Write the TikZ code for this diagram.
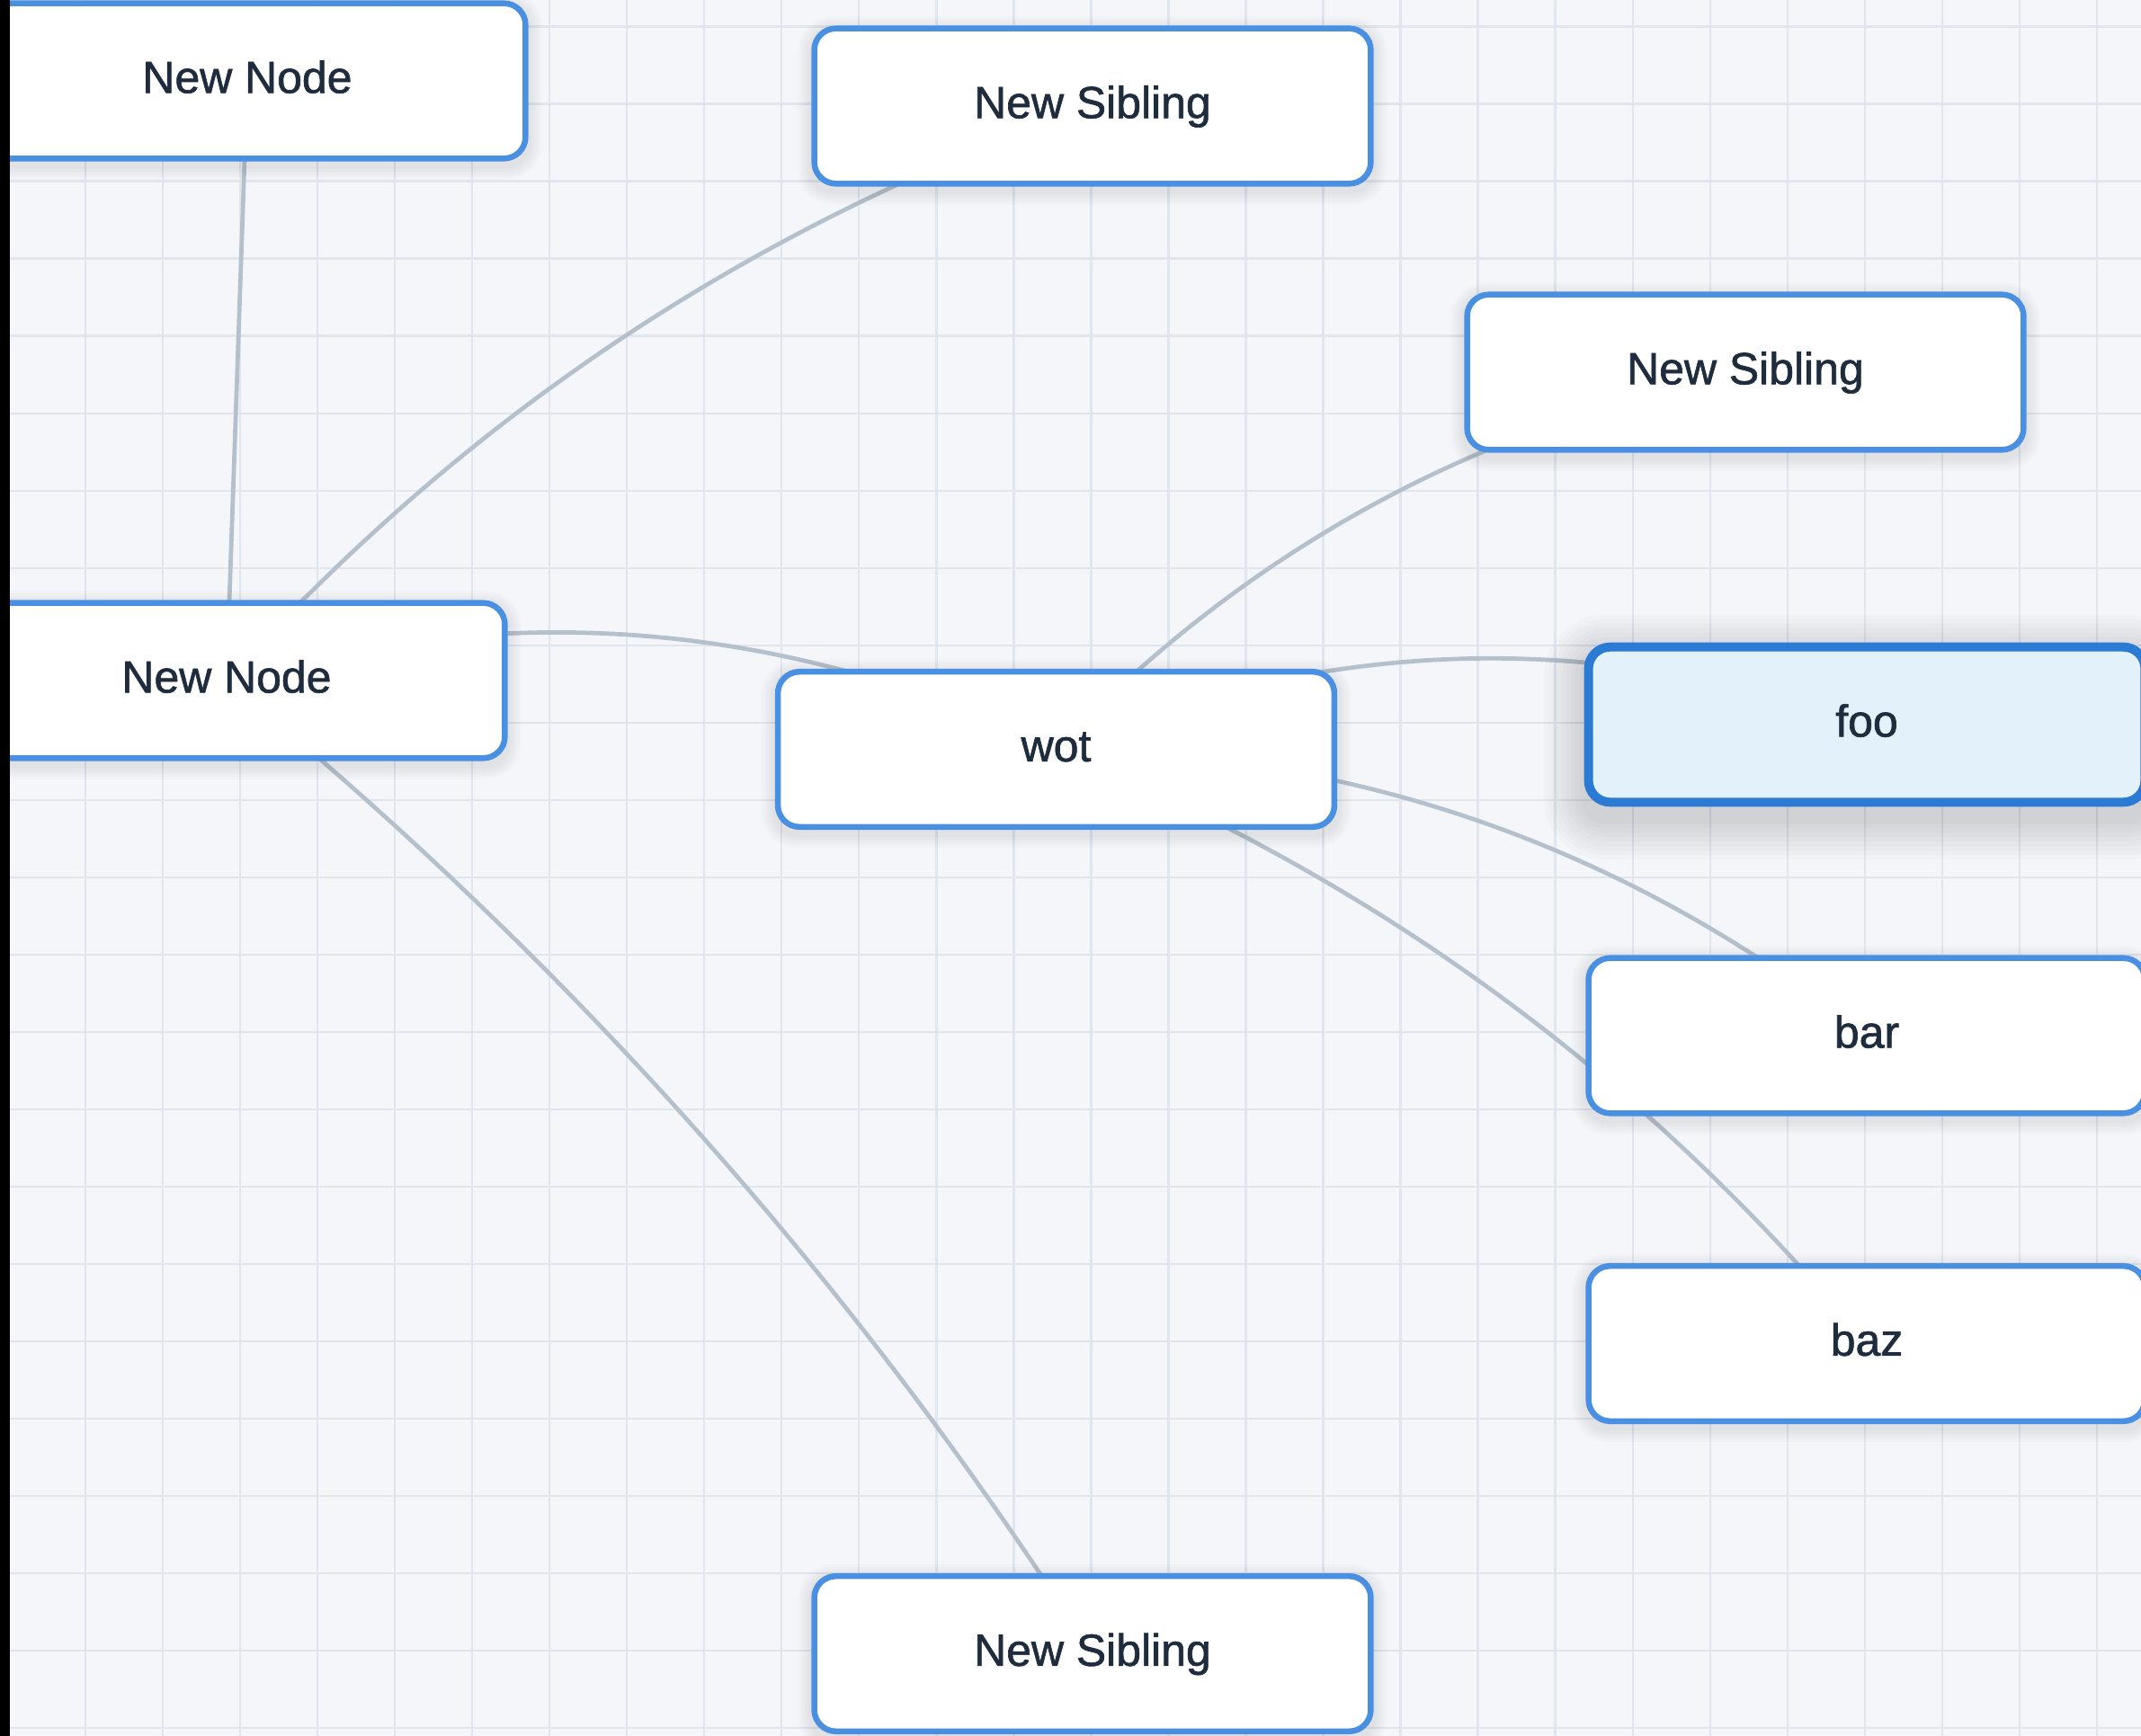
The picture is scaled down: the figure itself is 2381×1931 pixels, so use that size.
\documentclass[tikz,border=0pt]{standalone}
\usepackage{fontspec}
\setmainfont{Liberation Sans}
\newfontfamily\boxfont{Liberation Sans}[FakeBold=1.3]
\usetikzlibrary{calc}
\definecolor{bgc}{HTML}{F5F6FA}
\definecolor{gridc}{HTML}{E1E6EE}
\definecolor{edgec}{HTML}{B5C0CD}
\definecolor{borderc}{HTML}{4A90E2}
\definecolor{selborder}{HTML}{2B7BD4}
\definecolor{selfill}{HTML}{E3F1FB}
\definecolor{txtc}{HTML}{1F2C3D}
\pgfdeclarelayer{gridlayer}
\pgfdeclarelayer{edgelayer}
\pgfdeclarelayer{shadowlayer}
\pgfdeclarelayer{frontlayer}
\pgfsetlayers{gridlayer,edgelayer,shadowlayer,main,frontlayer}
\tikzset{
  mapbox/.style={draw=borderc, line width=1.85pt, fill=white, rounded corners=0.24cm,
    minimum width=6.185cm, minimum height=1.725cm, inner sep=0pt,
    text=txtc, font=\boxfont\fontsize{14.2pt}{17pt}\selectfont,
    text height=10pt, text depth=2.4pt},
  selbox/.style={mapbox, draw=selborder, line width=2.85pt, fill=selfill},
  edgeline/.style={draw=edgec, line width=1.35pt},
  gridline/.style={draw=gridc, line width=0.65pt},
  shadowpiece/.style={fill=black, opacity=#1}
}
\newcommand\qedge[3]{\draw[edgeline] (#1.center) .. controls ($(#1.center)!0.6667!(#3)$) and ($(#2.center)!0.6667!(#3)$) .. (#2.center);}
% node, steps, spread per step (px), opacity per step, y offset (px)
\newcommand\softshadow[5]{%
  \foreach \k in {1,...,#2} {%
    \pgfmathsetmacro\rr{0.24+0.01*\k*#3}%
    \fill[shadowpiece=#4, rounded corners=\rr cm] ($(#1.south west)+({-\k*#3},{\k*#3+#5})$) rectangle ($(#1.north east)+({\k*#3},{-\k*#3+#5})$);}}
\begin{document}
\begin{tikzpicture}[x=0.01cm, y=-0.01cm]
\useasboundingbox (0,0) rectangle (2381,1931);
\begin{pgfonlayer}{gridlayer}
  \fill[bgc] (0,0) rectangle (2381,1931);
  \foreach \i in {0,...,27} \draw[gridline] ({9+86.03*\i},0) -- ({9+86.03*\i},1931);
  \foreach \j in {0,...,22} \draw[gridline] (0,{29.5+86.03*\j}) -- (2381,{29.5+86.03*\j});
\end{pgfonlayer}

\node[mapbox] (nn1) at (275,90) {New Node};
\node[mapbox] (nn2) at (252,757) {New Node};
\node[mapbox] (ns1) at (1215,118) {New Sibling};
\node[mapbox] (ns2) at (1941,414) {New Sibling};
\node[mapbox] (wot) at (1174.5,833.5) {wot};
\node[selbox] (foo) at (2076,806) {foo};
\node[mapbox] (bar) at (2076,1152) {bar};
\node[mapbox] (baz) at (2076,1494.5) {baz};
\node[mapbox] (ns3) at (1215,1839.5) {New Sibling};

\begin{pgfonlayer}{shadowlayer}
  \foreach \n in {nn1,nn2,ns1,ns2,wot,bar,baz,ns3} {\softshadow{\n}{5}{3}{0.014}{5}}
  \softshadow{foo}{9}{5}{0.014}{14}
\end{pgfonlayer}

\coordinate (q2) at (651.5,313.7);
\coordinate (q3) at (726,620);
\coordinate (q4) at (820,1221);
\coordinate (q5) at (1491.5,501.7);
\coordinate (q6) at (1620,646);
\coordinate (q7) at (1679,839);
\coordinate (q8) at (1708,1050);

\begin{pgfonlayer}{edgelayer}
  \draw[edgeline] (nn1.center) -- (nn2.center);
  \qedge{nn2}{ns1}{q2}
  \qedge{nn2}{wot}{q3}
  \qedge{nn2}{ns3}{q4}
  \qedge{wot}{ns2}{q5}
  \qedge{wot}{foo}{q6}
  \qedge{wot}{bar}{q7}
  \qedge{wot}{baz}{q8}
\end{pgfonlayer}

\begin{pgfonlayer}{frontlayer}
  \fill[black] (0,0) rectangle (11,1931);
\end{pgfonlayer}
\end{tikzpicture}
\end{document}
